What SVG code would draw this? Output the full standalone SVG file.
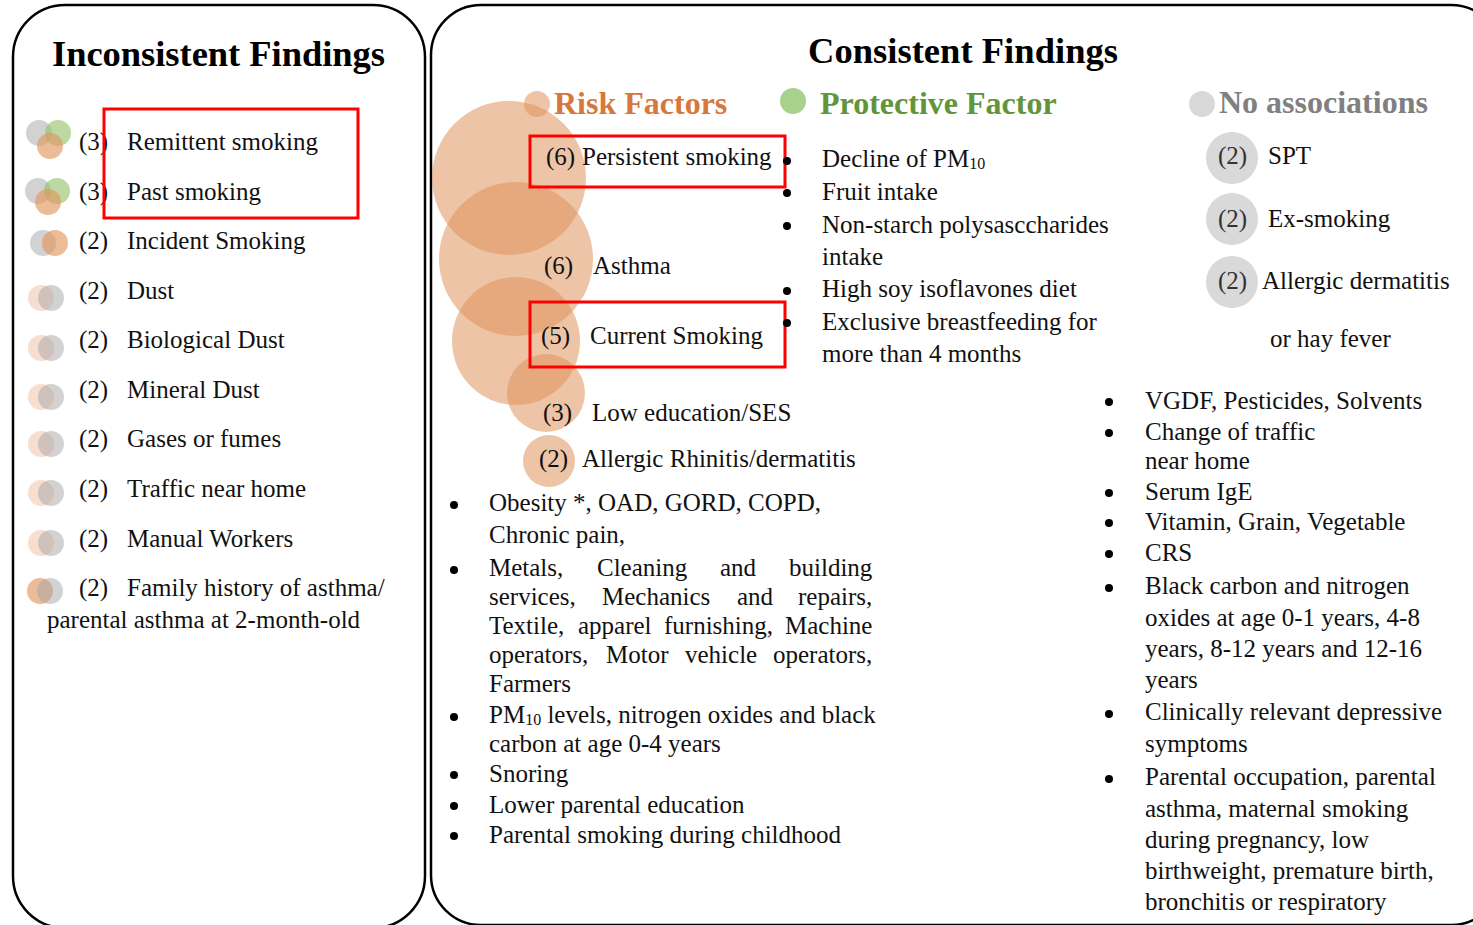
<svg xmlns="http://www.w3.org/2000/svg" width="1473" height="925" viewBox="0 0 1473 925">
<style>
text{font-family:"Liberation Serif","Times New Roman",serif;font-size:25px;fill:#111}
.title{font-size:36.5px;font-weight:bold;fill:#000}
.hd{font-size:32px;font-weight:bold}
.panel{fill:#fff;stroke:#000;stroke-width:2.5}
.red{fill:none;stroke:#FF0000;stroke-width:3}
.g{fill:#A6A6A6;fill-opacity:.5}
.gr{fill:#8DC063;fill-opacity:.6}
.o{fill:#E2965F;fill-opacity:.65}
.lo{fill:#E2965F;fill-opacity:.3}
.bub{fill:#E0945C;fill-opacity:.55}
.na{fill:#D9D9D9}
.bul{fill:#000}
.sub{font-size:16px}
</style>
<rect width="1473" height="925" fill="#fff"/>
<g id="panel-inconsistent">
<rect class="panel" x="13" y="5" width="412" height="923" rx="52"/>
<text class="title" x="52" y="66" textLength="333">Inconsistent Findings</text>
</g>
<g id="panel-consistent">
<rect class="panel" x="431" y="5" width="1070" height="920" rx="50"/>
<text class="title" x="808" y="63" textLength="310">Consistent Findings</text>
</g>
<g id="inc-remittent">
<circle class="g" cx="39" cy="133" r="13"/><circle class="gr" cx="58" cy="133" r="13"/><circle class="o" cx="50" cy="146" r="13"/>
<text x="79" y="150">(3)</text><text x="127" y="150">Remittent smoking</text>
</g>
<g id="inc-past">
<circle class="g" cx="38" cy="191" r="13"/><circle class="gr" cx="57" cy="191" r="13"/><circle class="o" cx="48" cy="202" r="13"/>
<text x="79" y="200">(3)</text><text x="127" y="200">Past smoking</text>
</g>
<g id="inc-incident">
<circle class="g" cx="43" cy="243" r="13"/><circle class="o" cx="55" cy="243" r="13"/>
<text x="79" y="249">(2)</text><text x="127" y="249">Incident Smoking</text>
</g>
<g id="inc-dust">
<circle class="lo" cx="41" cy="298" r="13"/><circle class="g" cx="51" cy="298" r="13"/>
<text x="79" y="299">(2)</text><text x="127" y="299">Dust</text>
</g>
<g id="inc-biodust">
<circle class="lo" cx="41" cy="348" r="13"/><circle class="g" cx="51" cy="348" r="13"/>
<text x="79" y="348">(2)</text><text x="127" y="348">Biological Dust</text>
</g>
<g id="inc-mineral">
<circle class="lo" cx="41" cy="397" r="13"/><circle class="g" cx="51" cy="397" r="13"/>
<text x="79" y="398">(2)</text><text x="127" y="398">Mineral Dust</text>
</g>
<g id="inc-gases">
<circle class="lo" cx="41" cy="444" r="13"/><circle class="g" cx="51" cy="444" r="13"/>
<text x="79" y="447">(2)</text><text x="127" y="447">Gases or fumes</text>
</g>
<g id="inc-traffic">
<circle class="lo" cx="41" cy="493" r="13"/><circle class="g" cx="51" cy="493" r="13"/>
<text x="79" y="497">(2)</text><text x="127" y="497">Traffic near home</text>
</g>
<g id="inc-manual">
<circle class="lo" cx="41" cy="543" r="13"/><circle class="g" cx="51" cy="543" r="13"/>
<text x="79" y="547">(2)</text><text x="127" y="547">Manual Workers</text>
</g>
<g id="inc-family">
<circle class="o" cx="40" cy="591" r="13"/><circle class="g" cx="50" cy="591" r="13"/>
<text x="79" y="596">(2)</text><text x="127" y="596">Family history of asthma/</text>
<text x="47" y="628">parental asthma at 2-month-old</text>
</g>
<g id="inc-highlight"><rect class="red" x="104" y="109" width="254" height="109"/></g>

<g id="legend-risk">
<circle class="bub" cx="537" cy="104" r="13"/>
<text class="hd" x="554" y="114" style="fill:#D8773A">Risk Factors</text>
</g>
<g id="legend-protective">
<circle cx="793" cy="101" r="13" fill="#A9D18E"/>
<text class="hd" x="820" y="114" style="fill:#62943A">Protective Factor</text>
</g>
<g id="legend-none">
<circle class="na" cx="1202" cy="104" r="13"/>
<text class="hd" x="1219" y="113" style="fill:#808080">No associations</text>
</g>

<g id="risk-persistent">
<circle class="bub" cx="509" cy="178" r="77"/>
<text x="546" y="165">(6)</text><text x="582" y="165">Persistent smoking</text>
</g>
<g id="risk-asthma">
<circle class="bub" cx="516" cy="259" r="77"/>
<text x="544" y="274">(6)</text><text x="593" y="274">Asthma</text>
</g>
<g id="risk-current">
<circle class="bub" cx="516" cy="341" r="64"/>
<text x="541" y="344">(5)</text><text x="590" y="344">Current Smoking</text>
</g>
<g id="risk-lowedu">
<circle class="bub" cx="546" cy="393" r="39"/>
<text x="543" y="421">(3)</text><text x="592" y="421">Low education/SES</text>
</g>
<g id="risk-allergic">
<circle class="bub" cx="549" cy="461" r="26"/>
<text x="539" y="467">(2)</text><text x="582" y="467">Allergic Rhinitis/dermatitis</text>
</g>
<g id="risk-highlights">
<rect class="red" x="530" y="136" width="255" height="51"/>
<rect class="red" x="530" y="302" width="255" height="65"/>
</g>

<g id="risk-list">
<circle class="bul" cx="454" cy="505" r="4"/>
<text x="489" y="511">Obesity *, OAD, GORD, COPD,</text>
<text x="489" y="543">Chronic pain,</text>
<circle class="bul" cx="454" cy="570" r="4"/>
<text y="576"><tspan x="489">Metals,</tspan><tspan x="597">Cleaning</tspan><tspan x="720">and</tspan><tspan x="789">building</tspan></text>
<text y="605"><tspan x="489">services,</tspan><tspan x="602">Mechanics</tspan><tspan x="737">and</tspan><tspan x="798">repairs,</tspan></text>
<text y="634"><tspan x="489">Textile,</tspan><tspan x="578">apparel</tspan><tspan x="664">furnishing,</tspan><tspan x="785">Machine</tspan></text>
<text y="663"><tspan x="489">operators,</tspan><tspan x="606">Motor</tspan><tspan x="685">vehicle</tspan><tspan x="773">operators,</tspan></text>
<text x="489" y="692">Farmers</text>
<circle class="bul" cx="454" cy="717" r="4"/>
<text x="489" y="723">PM<tspan class="sub" dy="2">10</tspan><tspan dy="-2"> levels, nitrogen oxides and black</tspan></text>
<text x="489" y="752">carbon at age 0-4 years</text>
<circle class="bul" cx="454" cy="775" r="4"/>
<text x="489" y="782">Snoring</text>
<circle class="bul" cx="454" cy="806" r="4"/>
<text x="489" y="813">Lower parental education</text>
<circle class="bul" cx="454" cy="836" r="4"/>
<text x="489" y="843">Parental smoking during childhood</text>
</g>

<g id="protective-list">
<circle class="bul" cx="787" cy="161" r="4"/>
<text x="822" y="167">Decline of PM<tspan class="sub" dy="2">10</tspan></text>
<circle class="bul" cx="787" cy="193" r="4"/>
<text x="822" y="200">Fruit intake</text>
<circle class="bul" cx="787" cy="226" r="4"/>
<text x="822" y="233">Non-starch polysasccharides</text>
<text x="822" y="265">intake</text>
<circle class="bul" cx="787" cy="291" r="4"/>
<text x="822" y="297">High soy isoflavones diet</text>
<circle class="bul" cx="787" cy="323" r="4"/>
<text x="822" y="330">Exclusive breastfeeding for</text>
<text x="822" y="362">more than 4 months</text>
</g>

<g id="none-spt">
<circle class="na" cx="1232" cy="158" r="26"/>
<text x="1218" y="164" style="fill:#333">(2)</text><text x="1268" y="164">SPT</text>
</g>
<g id="none-exsmoking">
<circle class="na" cx="1232" cy="219" r="26"/>
<text x="1218" y="227" style="fill:#333">(2)</text><text x="1268" y="227">Ex-smoking</text>
</g>
<g id="none-allergic">
<circle class="na" cx="1232" cy="282" r="26"/>
<text x="1218" y="289" style="fill:#333">(2)</text><text x="1262" y="289">Allergic dermatitis</text>
<text x="1270" y="347">or hay fever</text>
</g>

<g id="none-list">
<circle class="bul" cx="1109" cy="402" r="4"/>
<text x="1145" y="409">VGDF, Pesticides, Solvents</text>
<circle class="bul" cx="1109" cy="433" r="4"/>
<text x="1145" y="440">Change of traffic</text>
<text x="1145" y="469">near home</text>
<circle class="bul" cx="1109" cy="493" r="4"/>
<text x="1145" y="500">Serum IgE</text>
<circle class="bul" cx="1109" cy="523" r="4"/>
<text x="1145" y="530">Vitamin, Grain, Vegetable</text>
<circle class="bul" cx="1109" cy="554" r="4"/>
<text x="1145" y="561">CRS</text>
<circle class="bul" cx="1109" cy="588" r="4"/>
<text x="1145" y="594">Black carbon and nitrogen</text>
<text x="1145" y="626">oxides at age 0-1 years, 4-8</text>
<text x="1145" y="657">years, 8-12 years and 12-16</text>
<text x="1145" y="688">years</text>
<circle class="bul" cx="1109" cy="714" r="4"/>
<text x="1145" y="720">Clinically relevant depressive</text>
<text x="1145" y="752">symptoms</text>
<circle class="bul" cx="1109" cy="779" r="4"/>
<text x="1145" y="785">Parental occupation, parental</text>
<text x="1145" y="817">asthma, maternal smoking</text>
<text x="1145" y="848">during pregnancy, low</text>
<text x="1145" y="879">birthweight, premature birth,</text>
<text x="1145" y="910">bronchitis or respiratory</text>
</g>
</svg>
